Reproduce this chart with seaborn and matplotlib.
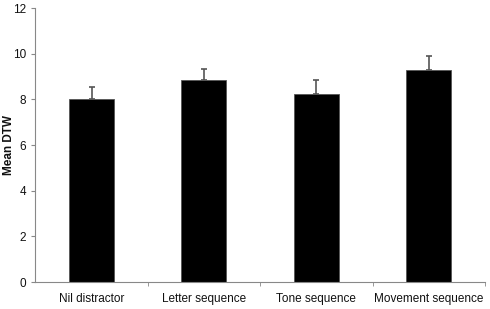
import matplotlib.pyplot as plt
import numpy as np
import pandas as pd
import seaborn as sns

conditions = ['Nil distractor', 'Letter sequence', 'Tone sequence', 'Movement sequence']
mean_dtw = [8.0, 8.83, 8.24, 9.27]
sem_dtw = [0.55, 0.5, 0.63, 0.65]

df = pd.DataFrame({'condition': conditions, 'dtw': mean_dtw})

sns.set_style('white')
plt.rcParams['font.family'] = ['Liberation Sans', 'DejaVu Sans']

fig = plt.figure(figsize=(4.9, 3.09), dpi=100)
ax = fig.add_axes([0.072, 0.087, 0.918, 0.887])

sns.barplot(x='condition', y='dtw', data=df, color='black', width=0.4,
            edgecolor='#555555', linewidth=0.6, errorbar=None, ax=ax)
ax.errorbar(np.arange(len(conditions)), mean_dtw,
            yerr=[np.zeros(len(sem_dtw)), sem_dtw], fmt='none',
            ecolor='#555555', elinewidth=1.2, capsize=2.5, capthick=1.2)

ax.set_xlim(-0.5, 3.5)
ax.set_ylim(0, 12)
ax.set_yticks(range(0, 13, 2))
ax.set_xlabel('')
ax.set_ylabel('Mean DTW', fontsize=8.5, fontweight='bold', color='#111111', va='center')
ax.yaxis.set_label_coords(-0.058, 0.5)
ax.set_xticks(np.arange(0.5, 4, 1), minor=True)
ax.tick_params(axis='x', which='major', length=0, labelsize=8.5, pad=8, labelcolor='#111111')
ax.tick_params(axis='x', which='minor', length=3, color='#888888', direction='out', bottom=True)
ax.tick_params(axis='y', length=3, color='#888888', direction='out', labelsize=8.5,
               left=True, labelcolor='#111111')
for side in ['top', 'right']:
    ax.spines[side].set_visible(False)
for side in ['left', 'bottom']:
    ax.spines[side].set_color('#888888')
    ax.spines[side].set_linewidth(0.8)

fig.savefig('out.png', dpi=100)
